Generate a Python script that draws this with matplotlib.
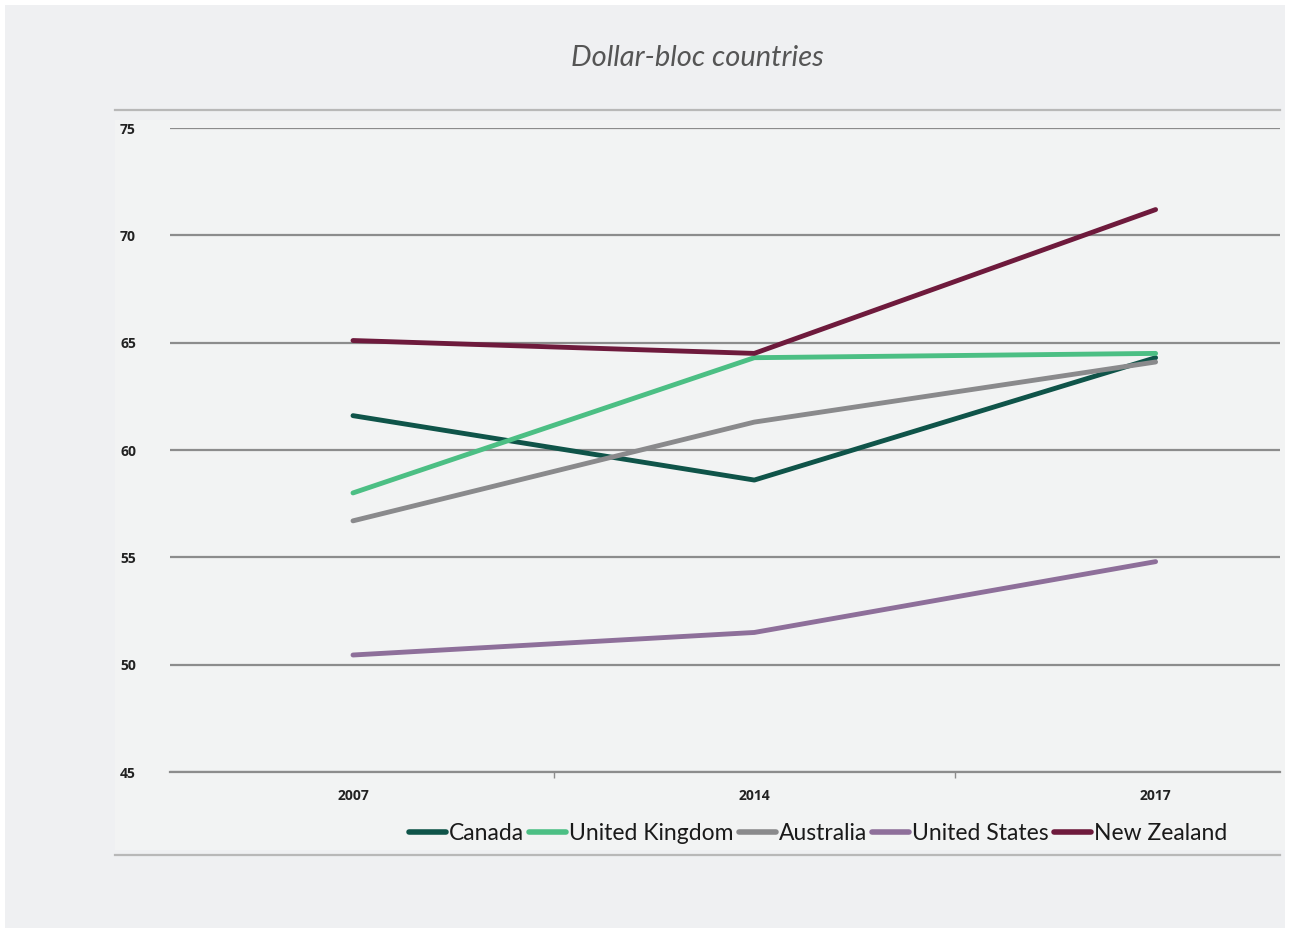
import matplotlib
matplotlib.use("Agg")
import matplotlib.pyplot as plt
from matplotlib.patches import Rectangle
from matplotlib.lines import Line2D

years = ["2007", "2014", "2017"]
canada = [61.6, 58.6, 64.3]
united_kingdom = [58.0, 64.3, 64.5]
australia = [56.7, 61.3, 64.1]
united_states = [50.45, 51.5, 54.8]
new_zealand = [65.1, 64.5, 71.2]

series_names = ["Canada", "United Kingdom", "Australia", "United States", "New Zealand"]
series_values = [canada, united_kingdom, australia, united_states, new_zealand]
colors = ["#0f5449", "#4cbf84", "#8a8a8c", "#8e6f9a", "#6e1a3c"]
y_ticks = [45, 50, 55, 60, 65, 70, 75]

W, H = 1290, 933
fig = plt.figure(figsize=(W / 100, H / 100), dpi=100)
fig.patch.set_facecolor("white")

# background panels
fig.patches.append(Rectangle((5 / W, 1 - 928 / H), 1280 / W, 923 / H, transform=fig.transFigure,
                             facecolor="#eff0f2", edgecolor="none", zorder=-2))
fig.patches.append(Rectangle((115 / W, 1 - 850 / H), 1170 / W, 730 / H, transform=fig.transFigure,
                             facecolor="#f2f3f3", edgecolor="none", zorder=-1))
fig.lines.append(Line2D([115 / W, 1280 / W], [1 - 110 / H] * 2, transform=fig.transFigure,
                        color="#b8b8b8", lw=1.6, zorder=-1))
fig.lines.append(Line2D([115 / W, 1280 / W], [1 - 855 / H] * 2, transform=fig.transFigure,
                        color="#b8b8b8", lw=1.6, zorder=-1))

fig.text(697 / W, 1 - 58 / H, "Dollar-bloc countries", ha="center", va="center",
         fontsize=21, style="italic", color="#555555", family="Lato")

ax = fig.add_axes([170 / W, 1 - 772 / H, (1280 - 170) / W, (772 - 128) / H])
ax.set_facecolor("none")
x = list(range(len(years)))
for name, vals, c in zip(series_names, series_values, colors):
    ax.plot(x, vals, color=c, lw=3.5, label=name, solid_capstyle="round", zorder=3)

ax.set_ylim(45, 75)
ax.set_xlim(-0.456, 2.31)
ax.set_yticks(y_ticks)
ax.set_yticklabels([str(t) for t in y_ticks])
ax.set_xticks(x)
ax.set_xticklabels(years)
ax.set_xticks([0.5, 1.5], minor=True)
ax.grid(axis="y", color="#8c8c8c", lw=1.6, zorder=1)
ax.set_axisbelow(True)
for s in ["top", "right", "left"]:
    ax.spines[s].set_visible(False)
ax.spines["bottom"].set_color("#8c8c8c")
ax.spines["bottom"].set_linewidth(1.6)
ax.tick_params(axis="y", length=0, pad=36, labelsize=10, labelcolor="#222222")
for lbl in ax.get_yticklabels():
    lbl.set_horizontalalignment("left")
    lbl.set_fontweight("bold")
    lbl.set_family("Open Sans")
ax.tick_params(axis="x", which="major", length=0, pad=12, labelsize=10, labelcolor="#222222")
ax.tick_params(axis="x", which="minor", length=4, width=1, color="#8c8c8c")
for lbl in ax.get_xticklabels():
    lbl.set_fontweight("bold")
    lbl.set_family("Open Sans")

leg = fig.legend(loc="center", bbox_to_anchor=(818 / W, 1 - 834 / H), ncol=5, frameon=False,
                 prop={"family": "Lato", "size": 16.5}, handlelength=1.6, handletextpad=0.12,
                 columnspacing=0.25, labelcolor="#1a1a1a")
for h in leg.get_lines():
    h.set_linewidth(4)

fig.savefig("out.png", dpi=100, facecolor=fig.get_facecolor())
